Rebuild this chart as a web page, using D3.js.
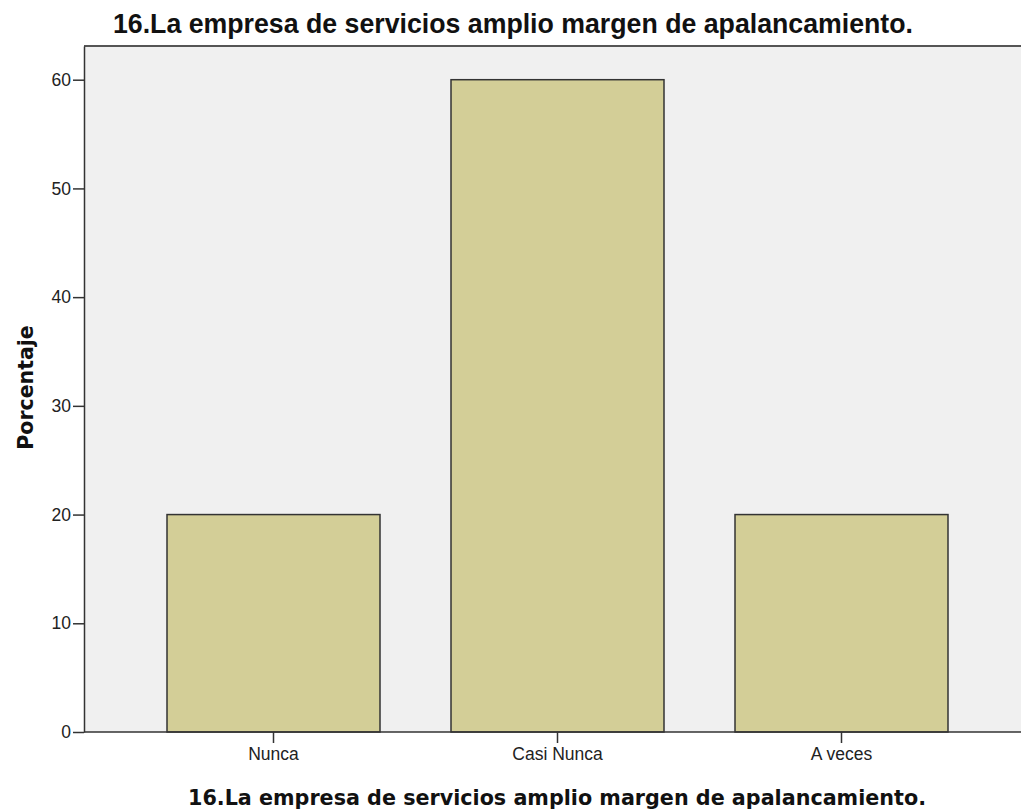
<!DOCTYPE html>
<html><head><meta charset="utf-8">
<script src="https://cdn.jsdelivr.net/npm/d3@7"></script>
<style>body{margin:0;background:#fff}svg{display:block}</style>
</head><body>
<script>
const categories = ["Nunca", "Casi Nunca", "A veces"];
const values = [20, 60, 20];
const yTicks = [0, 10, 20, 30, 40, 50, 60];
const titleText = "16.La empresa de servicios amplio margen de apalancamiento.";
const xTitle = "16.La empresa de servicios amplio margen de apalancamiento.";
const yTitle = "Porcentaje";

const W = 1021, H = 812;
const svg = d3.select("body").append("svg").attr("width", W).attr("height", H);

const plot = {left: 84, top: 46, right: 1021, bottom: 732};
const y = d3.scaleLinear().domain([0, 63.1]).range([plot.bottom, plot.top]);
const x = d3.scaleBand().domain(categories).range([131.5, 983.5]).paddingInner(0.25).paddingOuter(0.125);

svg.append("rect").attr("x", plot.left).attr("y", plot.top)
  .attr("width", plot.right - plot.left).attr("height", plot.bottom - plot.top).attr("fill", "#f0f0f0");

svg.append("line").attr("x1", plot.left).attr("x2", plot.right).attr("y1", plot.top).attr("y2", plot.top)
  .attr("stroke", "#555").attr("stroke-width", 2);

svg.selectAll("rect.bar").data(values).join("rect").attr("class", "bar")
  .attr("x", (d, i) => x(categories[i]))
  .attr("y", d => y(d))
  .attr("width", x.bandwidth())
  .attr("height", d => y(0) - y(d))
  .attr("fill", "#d3ce97")
  .attr("stroke", "#333").attr("stroke-width", 1.5);

const yAxis = svg.append("g").attr("transform", `translate(${plot.left},0)`)
  .call(d3.axisLeft(y).tickValues(yTicks).tickSize(11).tickPadding(2).tickSizeOuter(0));
yAxis.select(".domain").attr("stroke", "#333").attr("stroke-width", 1.5);
yAxis.selectAll(".tick line").attr("stroke", "#333").attr("stroke-width", 1.5);
yAxis.selectAll(".tick text").attr("font-family", "Liberation Sans, Arial, sans-serif").attr("font-size", 17.5).attr("fill", "#222");

const xAxis = svg.append("g").attr("transform", `translate(0,${plot.bottom})`)
  .call(d3.axisBottom(x).tickSize(11).tickPadding(5).tickSizeOuter(0));
xAxis.select(".domain").attr("d", `M${plot.left},0H${plot.right}`).attr("stroke", "#333").attr("stroke-width", 1.5);
xAxis.selectAll(".tick line").attr("stroke", "#333").attr("stroke-width", 1.5);
xAxis.selectAll(".tick text").attr("font-family", "Liberation Sans, Arial, sans-serif").attr("font-size", 17.5).attr("fill", "#222");

svg.append("text").attr("x", 513).attr("y", 33).attr("text-anchor", "middle")
  .attr("font-family", "Liberation Sans, Arial, sans-serif").attr("font-weight", "bold")
  .attr("font-size", 27).attr("fill", "#111")
  .attr("textLength", 800).attr("lengthAdjust", "spacingAndGlyphs").text(titleText);

svg.append("text").attr("x", 557).attr("y", 805).attr("text-anchor", "middle")
  .attr("font-family", "DejaVu Sans, sans-serif").attr("font-weight", "bold")
  .attr("font-size", 21).attr("fill", "#111")
  .attr("textLength", 738).attr("lengthAdjust", "spacingAndGlyphs").text(xTitle);

svg.append("text").attr("transform", "translate(33,387.5) rotate(-90)").attr("text-anchor", "middle")
  .attr("font-family", "DejaVu Sans, sans-serif").attr("font-weight", "bold")
  .attr("font-size", 20.5).attr("fill", "#111").text(yTitle);
</script>
</body></html>
